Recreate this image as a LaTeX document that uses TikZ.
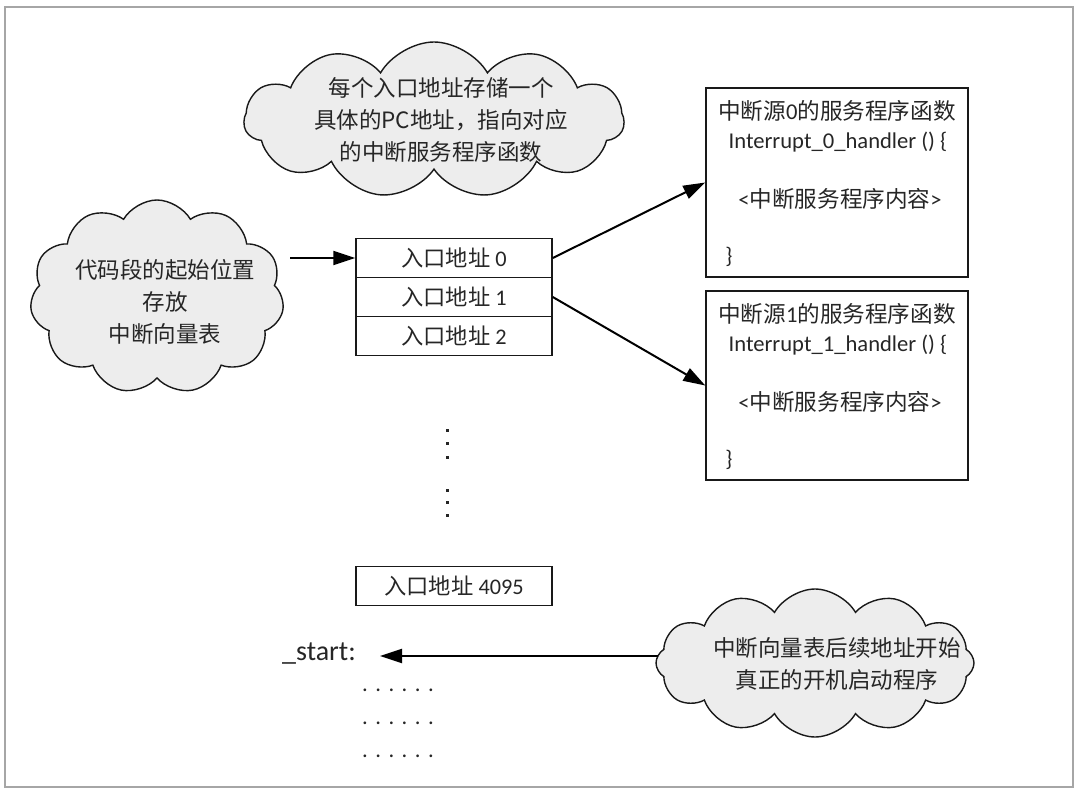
\documentclass[tikz,border=0pt]{standalone}
\usepackage{fontspec}
\setmainfont{Carlito}
\newfontfamily\cjk{Noto Sans CJK SC}
\usetikzlibrary{shapes.symbols,arrows.meta}
\definecolor{textgray}{HTML}{262626}
\definecolor{cloudgray}{HTML}{EDEDED}
\definecolor{framegray}{HTML}{A6A6A6}
\begin{document}
\begin{tikzpicture}[x=1pt,y=-1pt,
  cloudbox/.style={cloud, cloud puffs=12, cloud puff arc=120, draw=black!90, line width=1.4pt, fill=cloudgray, inner sep=0pt},
  cloudtxt/.style={text=textgray, font=\cjk\fontsize{22.5}{32}\selectfont, inner sep=0pt, align=center},
  txt/.style={text=textgray, font=\fontsize{22.6}{29}\selectfont, inner sep=0pt},
  cell/.style={draw=black!90, line width=1.5pt, minimum width=196pt, minimum height=39pt, inner sep=0pt, text=textgray, font=\fontsize{22.3}{29}\selectfont},
  fnbox/.style={draw=black!90, line width=1.5pt, minimum width=262pt, minimum height=189pt, inner sep=0pt},
  arr/.style={line width=2pt, -{Triangle[length=22pt,width=14pt]}}]
\useasboundingbox (0,0) rectangle (1080,795);
\draw[framegray, line width=1.8pt] (5,7) rectangle (1073,787);

% clouds
\node[cloudbox, cloud puffs=11, aspect=2.4, minimum width=380pt, minimum height=156pt] (c1) at (434,120) {};
\node[cloudtxt] (t1) at (441,120) {每个入口地址存储一个\\具体的PC地址，指向对应\\的中断服务程序函数};
\node[cloudbox, cloud puffs=11, minimum width=254pt, minimum height=194pt] (c2) at (157,297) {};
\node[cloudtxt] (t2) at (165,302) {代码段的起始位置\\存放\\中断向量表};
\node[cloudbox, minimum width=318pt, minimum height=148pt] (c3) at (815,663) {};
\node[cloudtxt] (t3) at (837,664) {中断向量表后续地址开始\\真正的开机启动程序};

% vector table
\node[cell] (e0) at (454,258) {{\cjk 入口地址} 0};
\node[cell] (e1) at (454,297) {{\cjk 入口地址} 1};
\node[cell] (e2) at (454,336) {{\cjk 入口地址} 2};
\node[cell] (e3) at (454,586) {{\cjk 入口地址} 4095};

% vertical dots
\foreach \yy in {430,443,457,490,502,515}
  \fill[black!85] (445.5,\yy-1.5) rectangle (448.5,\yy+1.5);

% handler boxes
\node[fnbox] (b0) at (837,182.5) {};
\node[fnbox] (b1) at (837,385.5) {};
\node[txt] (b0a) at (837,111) {{\cjk 中断源}0{\cjk 的服务程序函数}};
\node[txt] (b0b) at (838,142) {Interrupt\_0\_handler () \{};
\node[txt] (b0c) at (840,199) {<{\cjk 中断服务程序内容}>};
\node[txt] (b0d) at (729,257) {\}};
\node[txt] (b1a) at (837,314) {{\cjk 中断源}1{\cjk 的服务程序函数}};
\node[txt] (b1b) at (838,345) {Interrupt\_1\_handler () \{};
\node[txt] (b1c) at (840,402) {<{\cjk 中断服务程序内容}>};
\node[txt] (b1d) at (729,460) {\}};

% start label and dots
\node[txt, font=\fontsize{28}{32}\selectfont] (st) at (319,654) {\_start:};
\node[txt] (d1) at (398,690) {.\hspace{7.5pt}.\hspace{7.5pt}.\hspace{7.5pt}.\hspace{7.5pt}.\hspace{7.5pt}.};
\node[txt] (d2) at (398,723) {.\hspace{7.5pt}.\hspace{7.5pt}.\hspace{7.5pt}.\hspace{7.5pt}.\hspace{7.5pt}.};
\node[txt] (d3) at (398,756) {.\hspace{7.5pt}.\hspace{7.5pt}.\hspace{7.5pt}.\hspace{7.5pt}.\hspace{7.5pt}.};

% arrows
\coordinate (s0) at (290,258);
\draw[arr] (s0) -- (e0.west);
\draw[arr] (e0.east) -- (b0.west);
\draw[arr] (e1.east) -- (b1.west);
\coordinate (s3) at (658,656);
\coordinate (s3end) at (380,656);
\draw[arr] (s3) -- (s3end);
\end{tikzpicture}
\end{document}
